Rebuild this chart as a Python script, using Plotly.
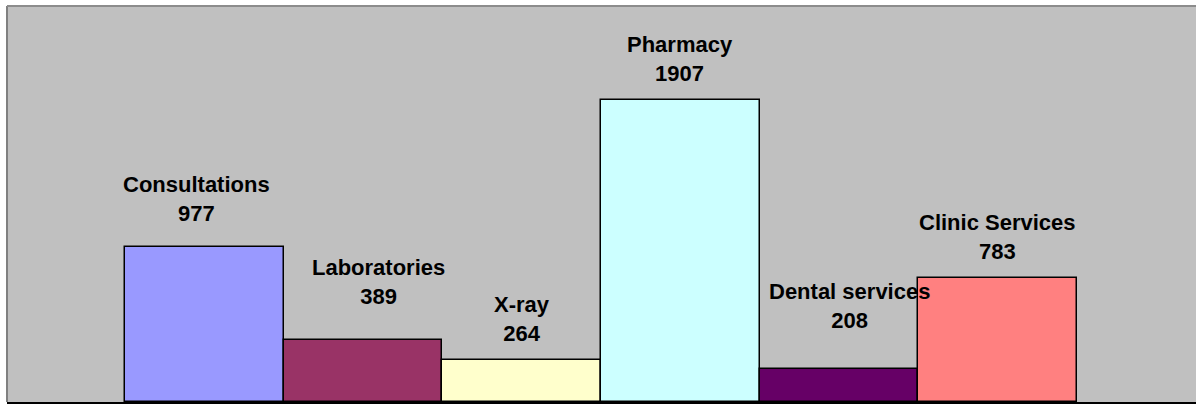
import plotly.graph_objects as go

categories = ["Consultations", "Laboratories", "X-ray", "Pharmacy", "Dental services", "Clinic Services"]
values = [977, 389, 264, 1907, 208, 783]
bar_colors = ["#9999FF", "#993366", "#FFFFCC", "#CCFFFF", "#660066", "#FF8080"]

# label placement tweaks (pixels), mimicking the original label positions
label_dx = [-8, 15, 0, 0, 10, 0]
label_dy = [7, 17, 0, 0, 22, 0]

x_idx = list(range(len(categories)))

fig = go.Figure()
fig.add_trace(go.Bar(
    x=x_idx, y=values,
    marker=dict(color=bar_colors, line=dict(color="black", width=1.5)),
    width=1.0,
    hoverinfo="skip",
))

for i, (c, v) in enumerate(zip(categories, values)):
    fig.add_annotation(
        x=i, y=v, xref="x", yref="y",
        text=f"<b>{c}</b><br><b>{v}</b>",
        showarrow=False,
        yanchor="bottom", xanchor="center",
        xshift=label_dx[i], yshift=12 + label_dy[i],
        font=dict(family="Liberation Sans, Arial, sans-serif", size=22, color="black"),
        align="center",
    )

fig.update_layout(
    width=1196, height=411,
    margin=dict(l=7, r=0, t=6, b=9),
    paper_bgcolor="white",
    plot_bgcolor="#C0C0C0",
    showlegend=False,
    bargap=0,
    xaxis=dict(range=[-1.2437, 6.2498], showticklabels=False, showgrid=False,
               zeroline=False, showline=True, linecolor="black", linewidth=2, ticks=""),
    yaxis=dict(range=[0, 2497], showticklabels=False, showgrid=False,
               zeroline=False, showline=False, ticks=""),
    shapes=[
        dict(type="line", xref="paper", yref="paper", x0=0, x1=0, y0=0, y1=1,
             line=dict(color="#808080", width=2)),
        dict(type="line", xref="paper", yref="paper", x0=0, x1=1, y0=1, y1=1,
             line=dict(color="#8C8C8C", width=2)),
    ],
)

fig.write_html("out.html",
               config={"displayModeBar": False},
               post_script="document.body.style.margin='0';document.body.style.overflow='hidden';")
